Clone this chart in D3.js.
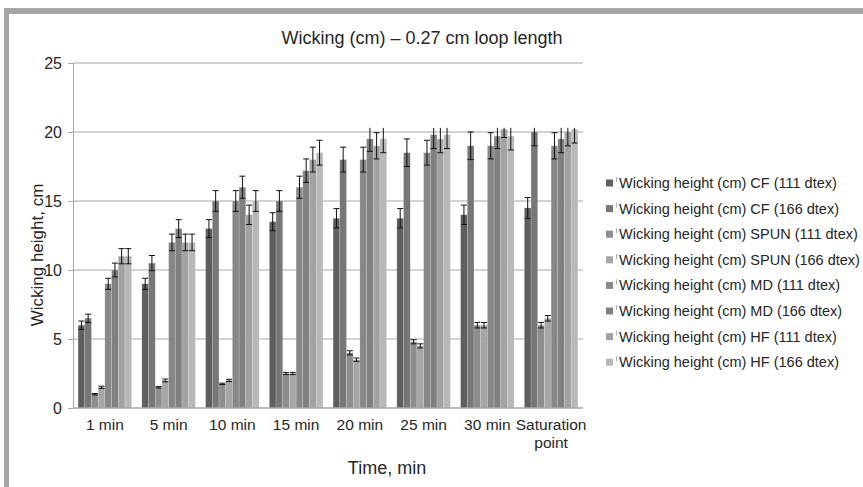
<!DOCTYPE html>
<html>
<head>
<meta charset="utf-8">
<script src="https://cdn.jsdelivr.net/npm/d3@7"></script>
<style>
  body { margin: 0; background: #fff; }
  #plot text { font-family: "Liberation Sans", Arial, sans-serif; fill: #262626; }
</style>
</head>
<body>
<div id="plot"></div>
<script>
var categories = ["1 min", "5 min", "10 min", "15 min", "20 min", "25 min", "30 min", "Saturation point"];
var seriesNames = [
    "Wicking height (cm) CF (111 dtex)",
    "Wicking height (cm) CF (166 dtex)",
    "Wicking height (cm) SPUN (111 dtex)",
    "Wicking height (cm) SPUN (166 dtex)",
    "Wicking height (cm) MD (111 dtex)",
    "Wicking height (cm) MD (166 dtex)",
    "Wicking height (cm) HF (111 dtex)",
    "Wicking height (cm) HF (166 dtex)"
];
var cf111 = [6.0, 9.0, 13.0, 13.5, 13.75, 13.75, 14.0, 14.5];
var cf166 = [6.5, 10.5, 15.0, 15.0, 18.0, 18.5, 19.0, 20.0];
var spun111 = [1.0, 1.5, 1.75, 2.5, 4.0, 4.8, 6.0, 6.0];
var spun166 = [1.5, 2.0, 2.0, 2.5, 3.5, 4.5, 6.0, 6.5];
var md111 = [9.0, 12.0, 15.0, 16.0, 18.0, 18.5, 19.0, 19.0];
var md166 = [10.0, 13.0, 16.0, 17.2, 19.5, 19.8, 19.7, 19.5];
var hf111 = [11.0, 12.0, 14.0, 18.0, 19.0, 19.5, 20.2, 20.0];
var hf166 = [11.0, 12.0, 15.0, 18.5, 19.5, 19.8, 19.7, 20.2];

var cf111Err = [0.3, 0.4, 0.65, 0.65, 0.7, 0.7, 0.7, 0.75];
var cf166Err = [0.3, 0.55, 0.75, 0.75, 0.9, 1.0, 1.0, 1.0];
var spun111Err = [0.05, 0.05, 0.05, 0.08, 0.15, 0.15, 0.2, 0.2];
var spun166Err = [0.08, 0.1, 0.08, 0.08, 0.12, 0.15, 0.2, 0.2];
var md111Err = [0.4, 0.6, 0.75, 0.8, 0.9, 0.9, 0.95, 0.95];
var md166Err = [0.5, 0.65, 0.8, 0.85, 0.9, 1.0, 0.9, 1.0];
var hf111Err = [0.55, 0.6, 0.7, 0.9, 0.95, 1.0, 0.6, 1.0];
var hf166Err = [0.55, 0.6, 0.75, 0.9, 1.0, 1.0, 1.0, 1.0];

var yTicks = [0, 5, 10, 15, 20, 25];
var errClip = 20.3;   // whiskers in the original stop just above 20

var seriesValues = [cf111, cf166, spun111, spun166, md111, md166, hf111, hf166];
var seriesErrors = [cf111Err, cf166Err, spun111Err, spun166Err, md111Err, md166Err, hf111Err, hf166Err];
var colors = ["#5f5f5f", "#777777", "#8d8d8d", "#a6a6a6", "#878787", "#808080", "#a2a2a2", "#b8b8b8"];

plotBarChart();

function plotBarChart() {
    var width = 863;
    var height = 487;

    var svg = d3.select("#plot").append("svg").attr("width", width).attr("height", height);

    // grey frame (top and left)
    svg.append("rect").attr("x", 4).attr("y", 8).attr("width", width - 4).attr("height", 6).attr("fill", "#a6a6a8");
    svg.append("rect").attr("x", 4).attr("y", 8).attr("width", 5).attr("height", height - 8).attr("fill", "#a6a6a8");

    var xScale = d3.scaleBand()
        .range([73, 583])
        .paddingInner(0.16)
        .paddingOuter(0.08)
        .domain(categories);

    var xInner = d3.scaleBand()
        .range([0, xScale.bandwidth()])
        .domain(d3.range(seriesNames.length));

    var yScale = d3.scaleLinear()
        .domain([0, 25])
        .range([408, 63]);

    // gridlines
    svg.append("g")
        .selectAll("line")
        .data(yTicks.filter(function(d) { return d > 0; }))
        .enter()
        .append("line")
        .attr("x1", 73)
        .attr("x2", 583)
        .attr("y1", function(d) { return yScale(d); })
        .attr("y2", function(d) { return yScale(d); })
        .attr("stroke", "#c4c4c4")
        .attr("stroke-width", 1.5);

    // y axis
    var yAxis = svg.append("g")
        .attr("transform", "translate(73,0)")
        .call(d3.axisLeft(yScale).tickValues(yTicks).tickSize(5).tickPadding(6));
    yAxis.select(".domain").attr("stroke", "#a6a6a6");
    yAxis.selectAll(".tick line").attr("stroke", "#a6a6a6");
    yAxis.selectAll(".tick text").style("font-size", "16px").attr("fill", "#262626");

    // bars
    var groups = svg.append("g")
        .selectAll("g")
        .data(categories)
        .enter()
        .append("g")
        .attr("transform", function(d) { return "translate(" + xScale(d) + ",0)"; });

    groups.selectAll("rect")
        .data(function(d, i) {
            return seriesValues.map(function(s, j) { return { s: j, value: s[i], err: seriesErrors[j][i] }; });
        })
        .enter()
        .append("rect")
        .attr("x", function(d) { return xInner(d.s); })
        .attr("y", function(d) { return yScale(d.value); })
        .attr("width", xInner.bandwidth())
        .attr("height", function(d) { return yScale(0) - yScale(d.value); })
        .attr("fill", function(d) { return colors[d.s]; })
        .attr("stroke", "#ffffff")
        .attr("stroke-opacity", 0.35)
        .attr("stroke-width", 0.5);

    // error bars
    var errs = groups.selectAll("g.err")
        .data(function(d, i) {
            return seriesValues.map(function(s, j) { return { s: j, value: s[i], err: seriesErrors[j][i] }; });
        })
        .enter()
        .append("g")
        .attr("class", "err");

    errs.append("line")
        .attr("x1", function(d) { return xInner(d.s) + xInner.bandwidth() / 2; })
        .attr("x2", function(d) { return xInner(d.s) + xInner.bandwidth() / 2; })
        .attr("y1", function(d) { return yScale(d.value - d.err); })
        .attr("y2", function(d) { return yScale(Math.min(d.value + d.err, errClip)); })
        .attr("stroke", "#111")
        .attr("stroke-width", 1);

    errs.append("line")
        .attr("x1", function(d) { return xInner(d.s) + xInner.bandwidth() / 2 - 3; })
        .attr("x2", function(d) { return xInner(d.s) + xInner.bandwidth() / 2 + 3; })
        .attr("y1", function(d) { return yScale(d.value - d.err); })
        .attr("y2", function(d) { return yScale(d.value - d.err); })
        .attr("stroke", "#111")
        .attr("stroke-width", 1);

    errs.filter(function(d) { return d.value + d.err <= errClip; })
        .append("line")
        .attr("x1", function(d) { return xInner(d.s) + xInner.bandwidth() / 2 - 3; })
        .attr("x2", function(d) { return xInner(d.s) + xInner.bandwidth() / 2 + 3; })
        .attr("y1", function(d) { return yScale(d.value + d.err); })
        .attr("y2", function(d) { return yScale(d.value + d.err); })
        .attr("stroke", "#111")
        .attr("stroke-width", 1);

    // x axis line
    svg.append("line")
        .attr("x1", 73).attr("x2", 583)
        .attr("y1", yScale(0)).attr("y2", yScale(0))
        .attr("stroke", "#a6a6a6")
        .attr("stroke-width", 1.5);

    // category labels
    var xLabels = svg.append("g")
        .selectAll("text")
        .data(categories)
        .enter()
        .append("text")
        .attr("x", function(d) { return xScale(d) + xScale.bandwidth() / 2; })
        .attr("y", 430)
        .attr("text-anchor", "middle")
        .style("font-size", "15.5px");
    xLabels.each(function(d) {
        var words = d === "Saturation point" ? ["Saturation", "point"] : [d];
        var t = d3.select(this);
        words.forEach(function(w, k) {
            t.append("tspan")
                .attr("x", xScale(d) + xScale.bandwidth() / 2)
                .attr("dy", k === 0 ? 0 : 18)
                .text(w);
        });
    });

    // titles
    svg.append("text")
        .attr("x", 422).attr("y", 44)
        .attr("text-anchor", "middle")
        .style("font-size", "18px")
        .text("Wicking (cm) \u2013 0.27 cm loop length");

    svg.append("text")
        .attr("x", 387).attr("y", 474)
        .attr("text-anchor", "middle")
        .style("font-size", "18px")
        .text("Time, min");

    svg.append("text")
        .attr("transform", "translate(43,255) rotate(-90)")
        .attr("text-anchor", "middle")
        .style("font-size", "17px")
        .text("Wicking height, cm");

    // legend
    var legend = svg.append("g")
        .selectAll("g")
        .data(seriesNames)
        .enter()
        .append("g")
        .attr("transform", function(d, i) { return "translate(606," + (183 + i * 25.6) + ")"; });

    legend.append("rect")
        .attr("x", 0).attr("y", -3.5)
        .attr("width", 7).attr("height", 7)
        .attr("fill", function(d, i) { return colors[i]; });

    legend.append("line")
        .attr("x1", 10.5).attr("x2", 10.5)
        .attr("y1", -6).attr("y2", -1)
        .attr("stroke", "#999").attr("stroke-width", 0.8);

    legend.append("text")
        .attr("x", 13).attr("y", 5)
        .style("font-size", "14.5px")
        .text(function(d) { return d; });
}
</script>
</body>
</html>
